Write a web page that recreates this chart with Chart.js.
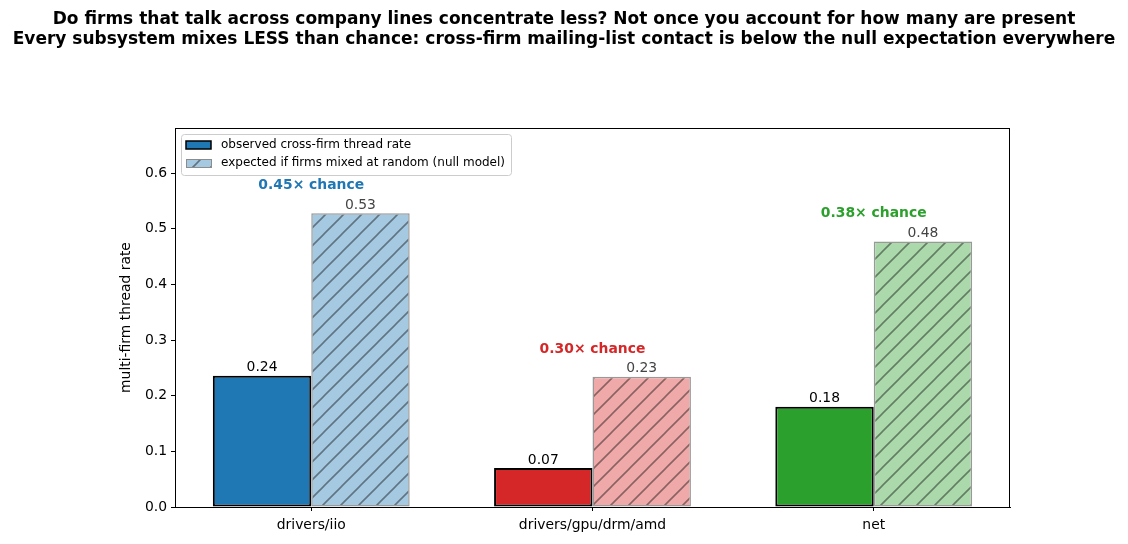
<!DOCTYPE html>
<html>
<head>
<meta charset="utf-8">
<script src="https://cdn.jsdelivr.net/npm/chart.js@4.4.1/dist/chart.umd.min.js"></script>
<style>
  html, body { margin: 0; padding: 0; background: #fff; }
  canvas { display: block; }
</style>
</head>
<body>
<canvas id="chart" width="1128" height="544"></canvas>
<script>
// data
const categories = ['drivers/iio', 'drivers/gpu/drm/amd', 'net'];
const observed = [0.236, 0.070, 0.180];
const expected = [0.528, 0.234, 0.477];
const ratioLabels = ['0.45\u00d7 chance', '0.30\u00d7 chance', '0.38\u00d7 chance'];
const yTicks = [0, 0.1, 0.2, 0.3, 0.4, 0.5, 0.6];
const seriesNames = ['observed cross-firm thread rate', 'expected if firms mixed at random (null model)'];
const titleLines = [
  'Do firms that talk across company lines concentrate less? Not once you account for how many are present',
  'Every subsystem mixes LESS than chance: cross-firm mailing-list contact is below the null expectation everywhere'
];

const colors = ['#1f77b4', '#d62728', '#2ca02c'];
const lightColors = ['#a5c9e1', '#efa9a9', '#abd9ab'];
const FONT = '"DejaVu Sans", sans-serif';

function hatch(fill) {
  const c = document.createElement('canvas');
  c.width = 18; c.height = 18;
  const g = c.getContext('2d');
  g.fillStyle = fill;
  g.fillRect(0, 0, 18, 18);
  g.strokeStyle = 'rgba(0,0,0,0.42)';
  g.lineWidth = 1.6;
  g.beginPath();
  g.moveTo(-2, 20); g.lineTo(20, -2);
  g.moveTo(-2, 2); g.lineTo(2, -2);
  g.moveTo(16, 20); g.lineTo(20, 16);
  g.stroke();
  return g.createPattern(c, 'repeat');
}
const patterns = lightColors.map(hatch);

const extras = {
  id: 'extras',
  afterDatasetsDraw(chart) {
    const ctx = chart.ctx, x = chart.scales.x, y = chart.scales.y;
    const m0 = chart.getDatasetMeta(0), m1 = chart.getDatasetMeta(1);
    ctx.save();
    ctx.textAlign = 'center';
    ctx.textBaseline = 'bottom';
    ctx.font = '13.9px ' + FONT;
    observed.forEach((v, i) => {
      ctx.fillStyle = '#000';
      ctx.fillText(v.toFixed(2), m0.data[i].x, y.getPixelForValue(v) - 1);
    });
    expected.forEach((v, i) => {
      ctx.fillStyle = '#444';
      ctx.fillText(v.toFixed(2), m1.data[i].x, y.getPixelForValue(v) - 1);
    });
    ctx.font = 'bold 13.9px ' + FONT;
    ctx.textBaseline = 'middle';
    ratioLabels.forEach((t, i) => {
      ctx.fillStyle = colors[i];
      ctx.fillText(t, x.getPixelForValue(i), y.getPixelForValue(expected[i] + 0.05));
    });
    ctx.restore();
  },
  afterDraw(chart) {
    const ctx = chart.ctx, a = chart.chartArea;
    ctx.save();
    // frame
    ctx.strokeStyle = '#000';
    ctx.lineWidth = 1;
    ctx.strokeRect(a.left + 0.5, a.top + 0.5, a.right - a.left - 1, a.bottom - a.top);
    // title
    ctx.fillStyle = '#000';
    ctx.textAlign = 'center';
    ctx.textBaseline = 'middle';
    ctx.font = 'bold 17px ' + FONT;
    titleLines.forEach((t, i) => ctx.fillText(t, 564, 20 + i * 20));
    // y label
    ctx.font = '13.9px ' + FONT;
    ctx.translate(126, (a.top + a.bottom) / 2);
    ctx.rotate(-Math.PI / 2);
    ctx.fillText('multi-firm thread rate', 0, 0);
    ctx.restore();

    // legend
    ctx.save();
    ctx.fillStyle = 'rgba(255,255,255,0.8)';
    ctx.strokeStyle = '#cccccc';
    ctx.lineWidth = 1;
    ctx.beginPath();
    ctx.roundRect(181.5, 134.5, 330, 41, 3);
    ctx.fill();
    ctx.stroke();
    ctx.fillStyle = colors[0];
    ctx.fillRect(186, 141, 25, 8);
    ctx.strokeStyle = '#000';
    ctx.lineWidth = 1.5;
    ctx.strokeRect(186, 141, 25, 8);
    ctx.fillStyle = patterns[0];
    ctx.fillRect(186, 159, 25, 8);
    ctx.strokeStyle = '#8c8c8c';
    ctx.lineWidth = 1;
    ctx.strokeRect(186.5, 159.5, 25, 8);
    ctx.fillStyle = '#000';
    ctx.font = '12px ' + FONT;
    ctx.textAlign = 'left';
    ctx.textBaseline = 'middle';
    ctx.fillText(seriesNames[0], 221, 145);
    ctx.fillText(seriesNames[1], 221, 163);
    ctx.restore();
  }
};

new Chart(document.getElementById('chart'), {
  type: 'bar',
  data: {
    datasets: [
      {
        label: seriesNames[0],
        data: observed.map((v, i) => ({ x: i, y: v })),
        backgroundColor: colors,
        borderColor: '#000',
        borderWidth: 2,
        borderSkipped: false,
        categoryPercentage: 0.7,
        barPercentage: 1
      },
      {
        label: seriesNames[1],
        data: expected.map((v, i) => ({ x: i, y: v })),
        backgroundColor: patterns,
        borderColor: '#999999',
        borderWidth: 1.5,
        borderSkipped: false,
        categoryPercentage: 0.7,
        barPercentage: 1
      }
    ]
  },
  options: {
    responsive: false,
    animation: false,
    devicePixelRatio: 1,
    layout: { padding: { left: 0, right: 118, top: 128, bottom: 0 } },
    plugins: { legend: { display: false }, tooltip: { enabled: false }, title: { display: false } },
    scales: {
      x: {
        type: 'linear',
        offset: false,
        min: -0.4845,
        max: 2.4845,
        afterBuildTicks: s => { s.ticks = categories.map((c, i) => ({ value: i })); },
        afterFit: s => { s.height = 37; },
        ticks: {
          callback: v => categories[v],
          color: '#000',
          font: { family: FONT, size: 13.9 },
          padding: 6,
          maxRotation: 0,
          autoSkip: false
        },
        grid: { display: true, offset: false, drawOnChartArea: false, drawTicks: true, tickLength: 4, color: '#000' },
        border: { display: true, color: '#000', width: 1 }
      },
      y: {
        min: 0,
        max: 0.681,
        afterBuildTicks: s => { s.ticks = yTicks.map(v => ({ value: v })); },
        afterFit: s => { s.width = 175; },
        ticks: {
          callback: v => v.toFixed(1),
          color: '#000',
          font: { family: FONT, size: 13.9 },
          padding: 4
        },
        grid: { display: true, drawOnChartArea: false, drawTicks: true, tickLength: 4, color: '#000' },
        border: { display: true, color: '#000', width: 1 }
      }
    }
  },
  plugins: [extras]
});
</script>
</body>
</html>
